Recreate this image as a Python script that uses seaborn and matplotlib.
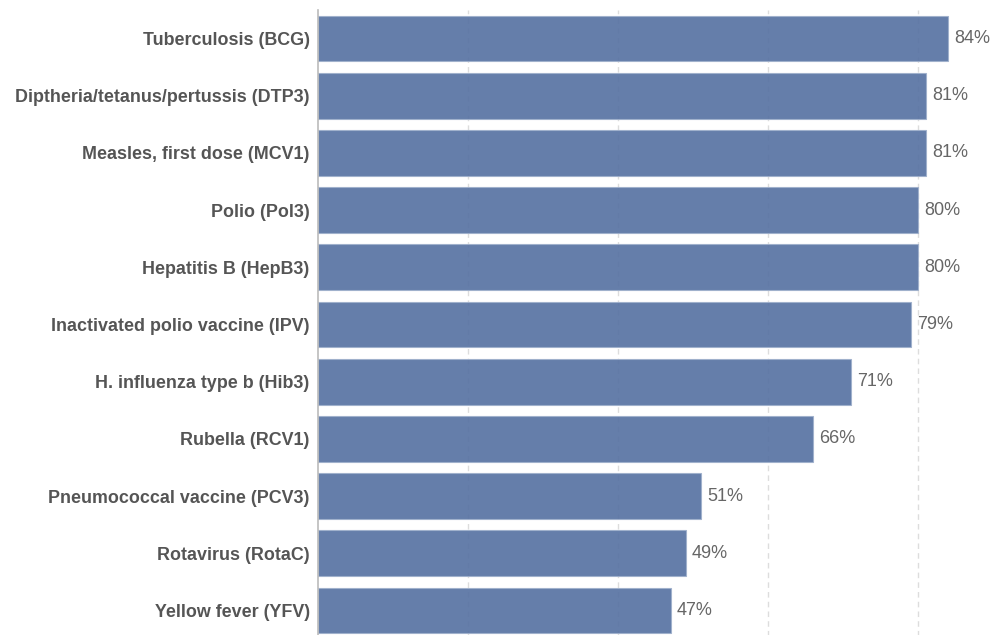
import matplotlib
matplotlib.use("Agg")
import matplotlib.pyplot as plt
import seaborn as sns
import pandas as pd

vaccines = [
    "Tuberculosis (BCG)",
    "Diptheria/tetanus/pertussis (DTP3)",
    "Measles, first dose (MCV1)",
    "Polio (Pol3)",
    "Hepatitis B (HepB3)",
    "Inactivated polio vaccine (IPV)",
    "H. influenza type b (Hib3)",
    "Rubella (RCV1)",
    "Pneumococcal vaccine (PCV3)",
    "Rotavirus (RotaC)",
    "Yellow fever (YFV)",
]
coverage = [84, 81, 81, 80, 80, 79, 71, 66, 51, 49, 47]

df = pd.DataFrame({"vaccine": vaccines, "coverage": coverage})

sns.set_theme(style="white")
plt.rcParams["font.family"] = ["Liberation Sans", "DejaVu Sans"]

fig = plt.figure(figsize=(9.95, 6.35), dpi=100)
ax = fig.add_axes([318 / 995, -4 / 635, 675 / 995, 629 / 635])

ax.set_axisbelow(True)
for g in [20, 40, 60, 80]:
    ax.axvline(g, color="#dddddd", lw=1, ls=(0, (4, 3)), zorder=0)

sns.barplot(data=df, x="coverage", y="vaccine", orient="h", color="#5873a3",
            saturation=1, width=0.8, alpha=0.92, edgecolor="#9fb0cc",
            linewidth=0.8, ax=ax, zorder=2)

for i, v in enumerate(coverage):
    ax.text(v + 0.85, i, f"{v}%", va="center", ha="left", fontsize=13,
            color="#666666")

ax.set_xlim(0, 90)
ax.set_ylim(10.5, -0.5)
ax.set_xlabel("")
ax.set_ylabel("")
ax.set_xticks([])
ax.tick_params(axis="y", length=0, pad=6)
for lbl in ax.get_yticklabels():
    lbl.set_fontweight("bold")
    lbl.set_fontsize(12.9)
    lbl.set_color("#555555")
for s in ["top", "right", "bottom"]:
    ax.spines[s].set_visible(False)
ax.spines["left"].set_color("#bbbbbb")
ax.spines["left"].set_linewidth(1.2)

fig.savefig("out.png", dpi=100)
